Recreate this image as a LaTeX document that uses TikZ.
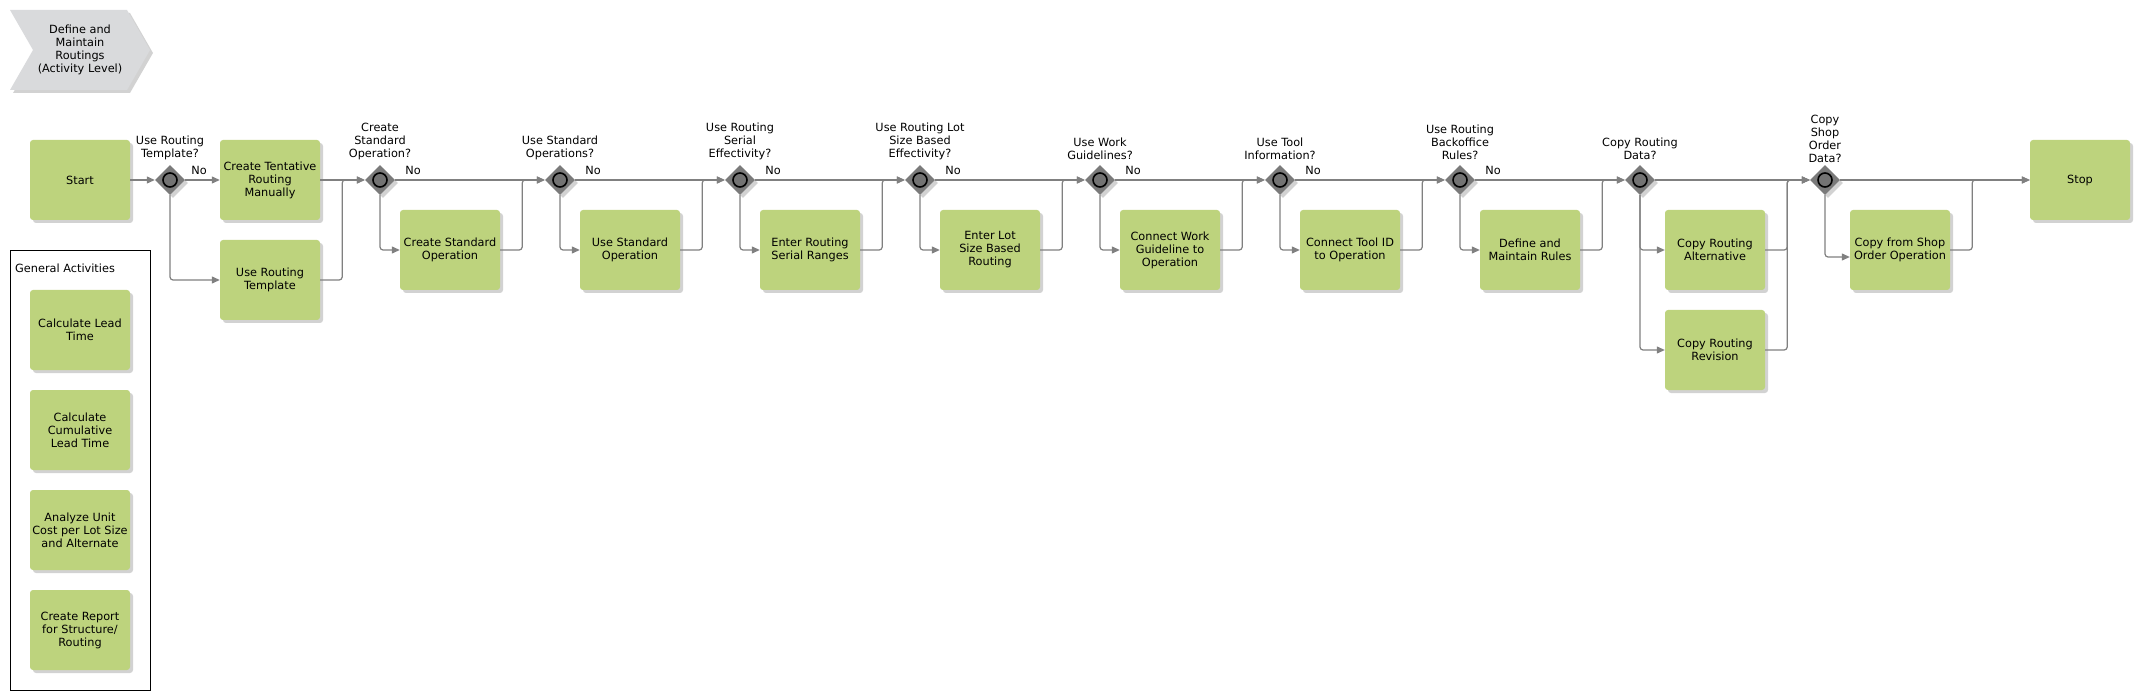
\documentclass[tikz,border=0pt]{standalone}
\usepackage{fontspec}
\setmainfont{DejaVu Sans}
\usepackage{tikz}
\usetikzlibrary{shapes.geometric,arrows.meta,positioning,calc,shadows}

\definecolor{actgreen}{RGB}{189,211,125}
\definecolor{gatewaygray}{RGB}{122,122,122}
\definecolor{flowgray}{RGB}{128,128,128}
\definecolor{chevrongray}{RGB}{217,218,220}

\begin{document}
\begin{tikzpicture}[x=1pt,y=-1pt,
    font=\fontsize{11.3}{13}\selectfont,
    activity/.style={fill=actgreen,rounded corners=3pt,minimum width=100pt,minimum height=80pt,
        inner sep=1pt,align=center,
        drop shadow={shadow xshift=3pt,shadow yshift=-3pt,fill=black!35,opacity=0.5}},
    gateway/.style={diamond,fill=gatewaygray,minimum width=30pt,minimum height=30pt,inner sep=0pt,
        drop shadow={shadow xshift=3pt,shadow yshift=-3pt,fill=black!35,opacity=0.5},
        path picture={\draw[line width=1.6pt,fill=black!55] (path picture bounding box.center) circle (7pt);}},
    question/.style={align=center,inner sep=0pt},
    flow/.style={draw=flowgray,line width=1.2pt,rounded corners=3pt,-{Triangle[length=8pt,width=7pt]}},
    nolabel/.style={pos=0.12,above=5pt,inner sep=0pt}]
    \useasboundingbox (0,0) rectangle (2140,700);

    % Title
    \path[fill=chevrongray,drop shadow={shadow xshift=3pt,shadow yshift=-3pt,fill=black!35,opacity=0.5}]
        (10,10) -- (127,10) -- (150,50) -- (127,90) -- (10,90) -- (33,50) -- cycle;
    \node (title) [align=center] at (80,50) {Define and\\Maintain\\Routings\\(Activity Level)};

    % Gateways
    \foreach \n/\x in {1/170,2/380,3/560,4/740,5/920,6/1100,7/1280,8/1460,9/1640,10/1825} {
        \node (d\n) [gateway] at (\x,180) {};
    }
    \node (q1) [question,above=5pt of d1] {Use Routing\\Template?};
    \node (q2) [question,above=5pt of d2] {Create\\Standard\\Operation?};
    \node (q3) [question,above=5pt of d3] {Use Standard\\Operations?};
    \node (q4) [question,above=5pt of d4] {Use Routing\\Serial\\Effectivity?};
    \node (q5) [question,above=5pt of d5] {Use Routing Lot\\Size Based\\Effectivity?};
    \node (q6) [question,above=5pt of d6] {Use Work\\Guidelines?};
    \node (q7) [question,above=5pt of d7] {Use Tool\\Information?};
    \node (q8) [question,above=5pt of d8] {Use Routing\\Backoffice\\Rules?};
    \node (q9) [question,above=5pt of d9] {Copy Routing\\Data?};
    \node (q10) [question,above=2pt of d10] {Copy\\Shop\\Order\\Data?};

    % Activities
    \node (start) [activity] at (80,180) {Start};
    \node (ctr) [activity] at (270,180) {Create Tentative\\Routing\\Manually};
    \node (urt) [activity] at (270,280) {Use Routing\\Template};
    \node (cso) [activity] at (450,250) {Create Standard\\Operation};
    \node (uso) [activity] at (630,250) {Use Standard\\Operation};
    \node (ers) [activity] at (810,250) {Enter Routing\\Serial Ranges};
    \node (elr) [activity] at (990,250) {Enter Lot\\Size Based\\Routing};
    \node (cwg) [activity] at (1170,250) {Connect Work\\Guideline to\\Operation};
    \node (cti) [activity] at (1350,250) {Connect Tool ID\\to Operation};
    \node (dmr) [activity] at (1530,250) {Define and\\Maintain Rules};
    \node (cra) [activity] at (1715,250) {Copy Routing\\Alternative};
    \node (crr) [activity] at (1715,350) {Copy Routing\\Revision};
    \node (csoo) [activity] at (1900,250) {Copy from Shop\\Order Operation};
    \node (stop) [activity] at (2080,180) {Stop};

    % General activities
    \draw[line width=0.8pt] (10,250) rectangle (150,690);
    \node (gentitle) [anchor=west,inner sep=0pt] at (15,268) {General Activities};
    \node (clt) [activity] at (80,330) {Calculate Lead\\Time};
    \node (cclt) [activity] at (80,430) {Calculate\\Cumulative\\Lead Time};
    \node (auc) [activity] at (80,530) {Analyze Unit\\Cost per Lot Size\\and Alternate};
    \node (crs) [activity] at (80,630) {Create Report\\for Structure/\\Routing};

    % Flows
    \draw[flow] (start.east) -- (d1.west);
    \draw[flow] (d1.east) -- node[nolabel,pos=0.4] {No} (ctr.west);
    \draw[flow] (d1.south) |- (urt.west);
    \draw[flow] (ctr.east) -- (d2.west);
    \draw[flow] (urt.east) -- ++(22,0) |- (d2.west);
    \foreach \a/\b/\c in {d2/cso/d3,d3/uso/d4,d4/ers/d5,d5/elr/d6,d6/cwg/d7,d7/cti/d8,d8/dmr/d9} {
        \draw[flow] (\a.east) -- node[nolabel] {No} (\c.west);
        \draw[flow] (\a.south) |- (\b.west);
        \draw[flow] (\b.east) -- ++(22,0) |- (\c.west);
    }
    \draw[flow] (d9.east) -- (d10.west);
    \draw[flow] (d9.south) |- (cra.west);
    \draw[flow] (d9.south) |- (crr.west);
    \draw[flow] (cra.east) -- ++(22,0) |- (d10.west);
    \draw[flow] (crr.east) -- ++(22,0) |- (d10.west);
    \draw[flow] (d10.east) -- (stop.west);
    \draw[flow] (d10.south) |- ([yshift=-7pt]csoo.west);
    \draw[flow] (csoo.east) -- ++(22,0) |- (stop.west);
\end{tikzpicture}
\end{document}
